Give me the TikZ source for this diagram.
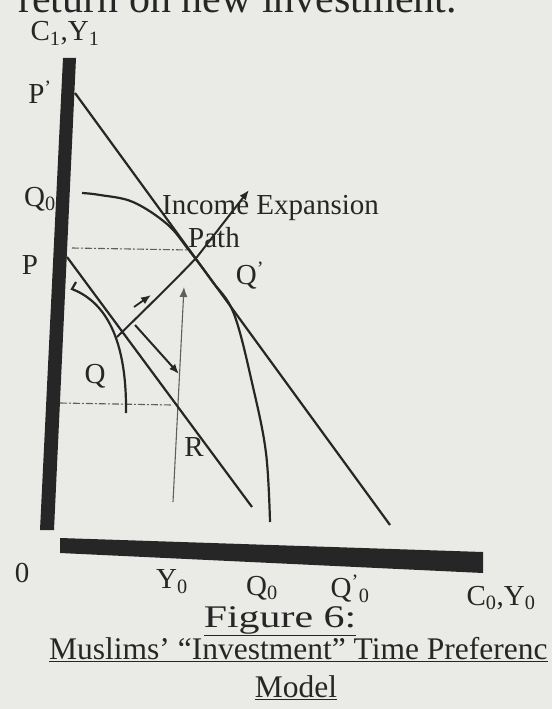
\documentclass[tikz,border=0pt]{standalone}
\usepackage{fontspec}
\usepackage{graphicx}
\setmainfont{Liberation Serif}
\usetikzlibrary{arrows.meta}
\definecolor{paper}{RGB}{234,234,230}
\definecolor{ink}{RGB}{38,38,38}
\definecolor{faint}{RGB}{95,95,95}
\begin{document}
\begin{tikzpicture}[x=1pt,y=-1pt,
  every node/.style={inner sep=0pt,text=ink},
  lab/.style={font=\fontsize{29}{31}\selectfont},
  captext/.style={font=\fontsize{31.5}{34}\selectfont},
  budget/.style={draw=ink,line width=2.2pt},
  icurve/.style={draw=ink,line width=2.2pt},
  guide/.style={draw=faint,line width=1.1pt,dash pattern=on 7pt off 2pt on 2pt off 2pt},
  tip/.style={-{Latex[length=10pt,width=8pt]}}]
\fill[paper] (0,0) rectangle (552,709);
\useasboundingbox (0,0) rectangle (552,709);

% partial body text at the top
\node[anchor=base east,text depth=0pt,font=\fontsize{42}{44}\selectfont] (toptext) at (457,13) {return on new investment.};

% axes (thick bars, slightly skewed)
\fill[ink] (63,58) -- (76,58) -- (54,530) -- (40,530) -- cycle;
\fill[ink] (60,538) -- (483,552) -- (483,573) -- (60,553) -- cycle;

% coordinates
\coordinate (Pp) at (75,93);
\coordinate (Ppend) at (390,525);
\coordinate (Pa) at (67,257);
\coordinate (Pb) at (252,507);
\coordinate (Qpt) at (117,337);
\coordinate (Qpr) at (197,257);
\coordinate (IEend) at (249,190);
\coordinate (sa1) at (134,307);
\coordinate (sa2) at (151,295);
\coordinate (pl1) at (135,325);
\coordinate (pl2) at (179,374);
\coordinate (v1) at (173,502);
\coordinate (v2) at (184,287);
\coordinate (d1) at (72,248);
\coordinate (d2) at (190,250);
\coordinate (d3) at (60,403);
\coordinate (d4) at (172,405);

% guide lines
\draw[guide] (d1) -- (d2);
\draw[guide] (d3) -- (d4);
\draw[draw=faint,line width=1.1pt,tip] (v1) -- (v2);

% budget lines
\draw[budget] (Pp) -- (Ppend);
\draw[budget] (Pa) -- (Pb);

% indifference curves
\draw[icurve] (76,282) -- (72,289) .. controls (100,300) and (127,330) .. (126,413);
\draw[icurve] plot[smooth,tension=0.6] coordinates {(82,193) (100,195) (133,202) (167,224) (188,249) (212,281) (234,314) (253,387) (266,453) (270,522)};

% income expansion path
\draw[line width=2pt,draw=ink,tip] (Qpt) .. controls (160,295) and (185,270) .. (Qpr) -- (IEend);
\draw[line width=1.8pt,draw=ink,tip] (sa1) -- (sa2);
\draw[line width=2pt,draw=ink,tip] (pl1) -- (pl2);

% labels
\node[lab,anchor=base] (lC1) at (65,41) {C\textsubscript{1},Y\textsubscript{1}};
\node[lab] (lPp) at (40,92) {P\textsuperscript{'}};
\node[lab] (lQ0) at (40,199) {Q\textsubscript{0}};
\node[lab] (lP) at (30,265) {P};
\node[lab] (lQ) at (95,376) {Q};
\node[lab] (lR) at (194,447) {R};
\node[lab] (lQp) at (250,276) {Q\textsuperscript{'}};
\node[lab,anchor=base west] (lIE) at (162,214) {Income Expansion};
\node[lab,anchor=base west] (lPath) at (188,247) {Path};

\node[lab] (lO) at (22,573) {0};
\node[lab] (lY0) at (172,582) {Y\textsubscript{0}};
\node[lab] (lQ0b) at (262,588) {Q\textsubscript{0}};
\node[lab] (lQp0) at (350,589) {Q\textsuperscript{'}\textsubscript{0}};
\node[lab] (lC0) at (501,598) {C\textsubscript{0},Y\textsubscript{0}};

% caption
\node[captext] (fig) at (280,621) {\scalebox{1.33}[1]{\underline{Figure 6:}}};
\node[captext,anchor=west] (title) at (49,650) {\underline{Muslims’ “Investment” Time Preferenc}};
\node[captext,anchor=base] (model) at (296,697) {\underline{Model}};
\end{tikzpicture}
\end{document}
